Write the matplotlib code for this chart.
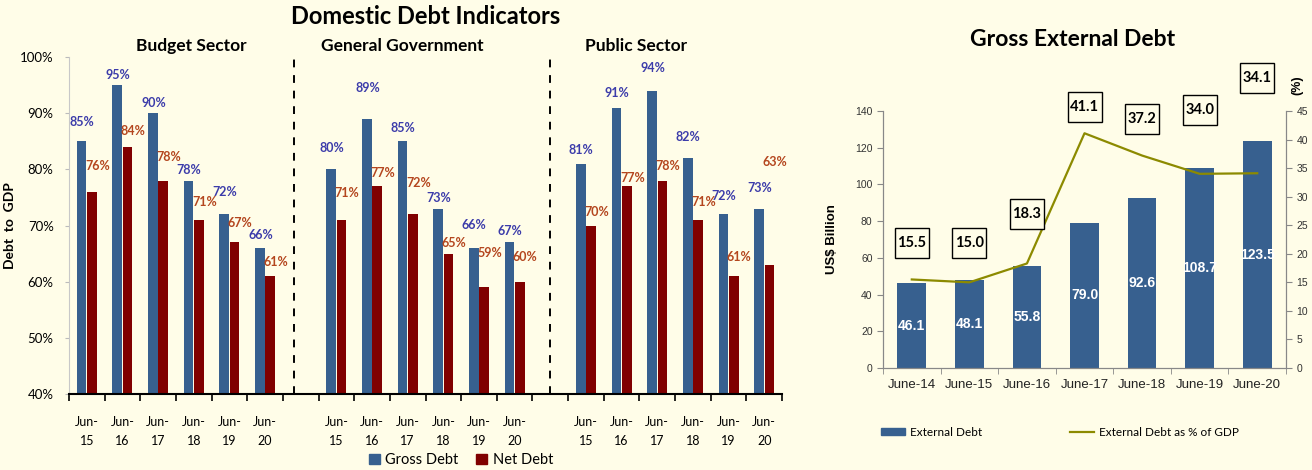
import matplotlib
matplotlib.use("Agg")
import matplotlib.pyplot as plt
import matplotlib.transforms as mtransforms
from matplotlib.patches import Rectangle, Patch
from matplotlib.lines import Line2D

plt.rcParams['font.family'] = ['Lato', 'DejaVu Sans']

# domestic debt (% of GDP)
years = ["15", "16", "17", "18", "19", "20"]
sectors = ["Budget Sector", "General Government", "Public Sector"]
gross_budget = [85, 95, 90, 78, 72, 66]
net_budget = [76, 84, 78, 71, 67, 61]
gross_gg = [80, 89, 85, 73, 66, 67]
net_gg = [71, 77, 72, 65, 59, 60]
gross_public = [81, 91, 94, 82, 72, 73]
net_public = [70, 77, 78, 71, 61, 63]

# gross external debt
ext_periods = ["June-14", "June-15", "June-16", "June-17", "June-18", "June-19", "June-20"]
ext_debt = [46.1, 48.1, 55.8, 79.0, 92.6, 108.7, 123.5]
ext_pct = [15.5, 15.0, 18.3, 41.1, 37.2, 34.0, 34.1]

BG = "#FFFDE8"
BLUE = "#37608F"
RED = "#800000"
W, H = 1312, 470

# hand placed label heights above the bars, as in the source chart
GROSS_DY = [[3.4, 1.8, 1.8, 1.9, 4.0, 2.3],
            [3.8, 5.5, 2.4, 1.9, 4.1, 2.0],
            [2.4, 2.6, 4.0, 3.7, 3.3, 3.7]]
NET_DY = [[4.6, 2.8, 4.2, 3.2, 3.4, 2.5],
          [4.8, 2.3, 5.6, 1.9, 6.1, 4.4],
          [2.4, 1.5, 2.6, 3.2, 3.4, 18.3]]


def domestic(fig):
    ax = fig.add_axes([69/W, 1-394/H, 713/W, 337/H])
    ax.set_facecolor(BG)
    groups = [(gross_budget, net_budget), (gross_gg, net_gg), (gross_public, net_public)]
    bw = 0.27
    centers, labels = [], []
    for g, (gross, net) in enumerate(groups):
        xs = [g*7 + i for i in range(len(years))]
        ax.bar([x - 0.145 for x in xs], [v - 40 for v in gross], bw, bottom=40, color=BLUE, zorder=2)
        ax.bar([x + 0.145 for x in xs], [v - 40 for v in net], bw, bottom=40, color=RED, zorder=2)
        for x, v, dy in zip(xs, gross, GROSS_DY[g]):
            ax.text(x - 0.13, v + dy, f"{v}%", ha="center", va="center", fontsize=9,
                    fontweight="bold", color="#3C3CAA")
        for x, v, dy in zip(xs, net, NET_DY[g]):
            ax.text(x + 0.3, v + dy, f"{v}%", ha="center", va="center", fontsize=9,
                    fontweight="bold", color="#B4461E")
        centers += xs
        labels += ["Jun-\n" + y for y in years]
    for xsep in (5.8, 13.0):
        ax.plot([xsep, xsep], [40, 100], ls=(0, (4, 4)), color="black", lw=1.4, zorder=1)
    for x, name in zip((2.92, 8.84, 15.4), sectors):
        ax.text(x, 102, name, ha="center", va="center", fontsize=12.5, fontweight="bold", clip_on=False)
    ax.set_xlim(-0.5, 19.5)
    ax.set_ylim(40, 100)
    ax.set_yticks(range(40, 101, 10))
    ax.set_yticklabels([f"{v}%" for v in range(40, 101, 10)], fontsize=9.5)
    ax.set_xticks(centers)
    ax.set_xticklabels(labels, fontsize=9, linespacing=1.7)
    ax.set_xticks([x - 0.5 for x in range(21)], minor=True)
    ax.tick_params(axis="x", which="major", length=0, pad=16)
    ax.tick_params(axis="x", which="minor", length=5, width=1.2, color="black")
    ax.tick_params(axis="y", length=3, color="#BBBBBB", pad=8)
    for s in ("top", "right"):
        ax.spines[s].set_visible(False)
    ax.spines["left"].set_color("#C8C8C8")
    ax.spines["bottom"].set_linewidth(1.5)
    ax.set_ylabel("Debt  to  GDP", fontsize=10, fontweight="bold")
    ax.yaxis.set_label_coords(-0.074, 0.5)
    fig.text(426/W, 1-17/H, "Domestic Debt Indicators", ha="center", va="center",
             fontsize=17, fontweight="bold")
    fig.legend([Patch(color=BLUE), Patch(color=RED)], ["Gross Debt", "Net Debt"],
               loc="center", bbox_to_anchor=(461/W, 1-460/H), ncol=2, frameon=False,
               fontsize=10.5, handlelength=0.75, handleheight=0.75, handletextpad=0.4,
               columnspacing=1.2, borderpad=0)


def external(fig):
    ax = fig.add_axes([883/W, 1-368/H, 403/W, 257/H])
    ax.set_facecolor(BG)
    xs = range(len(ext_periods))
    ax.bar(xs, ext_debt, 0.5, color=BLUE, zorder=2)
    for x, v in zip(xs, ext_debt):
        ax.text(x, v/2, f"{v:.1f}", ha="center", va="center", color="white", fontsize=10,
                fontweight="bold", family="Liberation Sans", zorder=3)
    ax.set_xlim(-0.5, 6.5)
    ax.set_ylim(0, 140)
    ax.set_yticks(range(0, 141, 20))
    ax.set_xticks(xs)
    ax.set_xticklabels(ext_periods, fontsize=9.5, family="Liberation Sans", color="#222222")
    ax.set_xticks([x - 0.5 for x in range(8)], minor=True)
    ax.tick_params(axis="x", which="major", length=0, pad=8)
    ax.tick_params(axis="x", which="minor", length=4, color="#888888")
    ax.tick_params(axis="y", length=4, color="#888888", labelsize=7.5, labelcolor="#333333")
    for lab in ax.get_yticklabels():
        lab.set_family("Liberation Sans")
    ax.spines["top"].set_visible(False)
    for s in ("left", "right", "bottom"):
        ax.spines[s].set_color("#888888")
    ax.set_ylabel("US$ Billion", fontsize=9.5, fontweight="bold", family="Liberation Sans")
    ax.yaxis.set_label_coords(-0.112, 0.5)

    ax2 = ax.twinx()
    ax2.plot(xs, ext_pct, color="#8C8A00", lw=1.6, zorder=3)
    ax2.set_ylim(0, 45)
    ax2.set_yticks(range(0, 46, 5))
    ax2.tick_params(axis="y", length=4, color="#888888", labelsize=7.5, labelcolor="#333333")
    for lab in ax2.get_yticklabels():
        lab.set_family("Liberation Sans")
    ax2.spines["top"].set_visible(False)
    for s in ("left", "right", "bottom"):
        ax2.spines[s].set_color("#888888")
    box_y = [21.9, 21.9, 27.0, 45.7, 43.6, 45.2, 50.8]
    for x, y, v in zip(xs, box_y, ext_pct):
        tr = fig.dpi_scale_trans + mtransforms.ScaledTranslation(x, y, ax2.transData)
        ax2.add_patch(Rectangle((-0.17, -0.15), 0.34, 0.30, transform=tr, facecolor=BG,
                                edgecolor="black", lw=1, clip_on=False, zorder=4))
        ax2.text(x, y, f"{v:.1f}", ha="center", va="center", fontsize=10.5, fontweight="bold",
                 clip_on=False, zorder=5)
    fig.text(1297/W, 1-85/H, "(%)", rotation=90, ha="center", va="center", fontsize=9,
             fontweight="bold", family="Liberation Sans")
    fig.text(1073/W, 1-40/H, "Gross External Debt", ha="center", va="center",
             fontsize=16.5, fontweight="bold")
    fig.legend([Patch(color=BLUE), Line2D([], [], color="#8C8A00", lw=1.6)],
               ["External Debt", "External Debt as % of GDP"], loc="center",
               bbox_to_anchor=(1060/W, 1-432/H), ncol=2, frameon=False, fontsize=8.5,
               handlelength=2.0, handleheight=0.6, handletextpad=0.4, columnspacing=7.5,
               borderpad=0)


def main():
    fig = plt.figure(figsize=(13.12, 4.7), dpi=100, facecolor=BG)
    domestic(fig)
    external(fig)
    fig.savefig("out.png", dpi=100, facecolor=BG)


if __name__ == "__main__":
    main()
